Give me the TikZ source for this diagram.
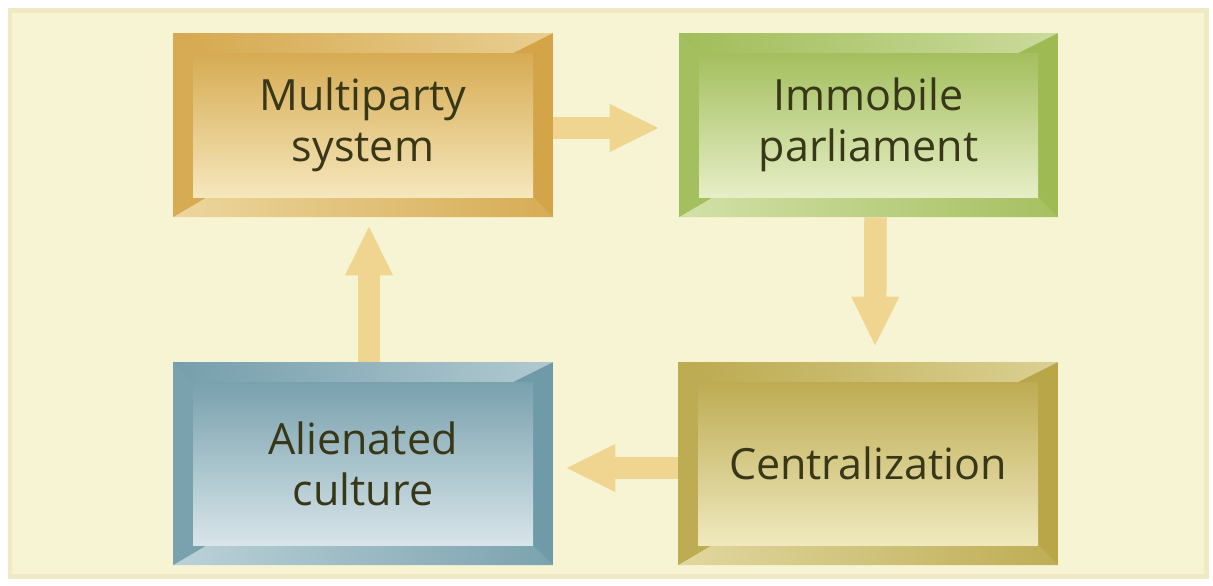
\documentclass[tikz,border=0pt]{standalone}
\usepackage{fontspec}
\setmainfont{Open Sans}
\usetikzlibrary{arrows.meta}

\definecolor{panel}{HTML}{F7F4D3}
\definecolor{panelrim}{HTML}{EFEAC4}
\definecolor{arrowfill}{HTML}{F0D590}
\definecolor{ink}{HTML}{383718}
\definecolor{gold}{HTML}{D3A548}
\definecolor{goldlight}{HTML}{FAF0CC}
\definecolor{leaf}{HTML}{9DBA53}
\definecolor{leaflight}{HTML}{F0F5D6}
\definecolor{slate}{HTML}{6F9AA8}
\definecolor{slatelight}{HTML}{E6EFF2}
\definecolor{ochre}{HTML}{B8A648}
\definecolor{ochrelight}{HTML}{F7F2CE}

\tikzset{
	boxtext/.style={inner sep=0,align=center,text=ink,font=\fontsize{24.5}{29}\selectfont},
	flow/.style={draw=arrowfill,line width=0.45cm,-{Triangle[length=1.0cm,width=0.88cm]}}
}

% bevelled box: name, x1, y1, x2, y2, base colour, text
\newcommand{\BevelBox}[7]{%
	\fill[#6] (#2,#3) rectangle (#4,#5);
	\shade[left color=#6!95!#6light,right color=#6!45!#6light]
		(#2,#3)--(#4,#3)--(#4-40,#3+20)--(#2+20,#3+20)--cycle;
	\shade[left color=#6!35!#6light,right color=#6!90!#6light]
		(#2,#5)--(#4,#5)--(#4-20,#5-20)--(#2+34,#5-20)--cycle;
	\fill[#6!92!#6light]
		(#2,#3)--(#2+20,#3+20)--(#2+20,#5-20)--(#2+34,#5-20)--(#2,#5)--cycle;
	\shade[top color=#6!92!#6light,bottom color=#6!12!#6light]
		(#2+20,#3+20) rectangle (#4-20,#5-20);
	\node[boxtext,minimum width={(#4-#2)*0.02cm},minimum height={(#5-#3)*0.02cm}]
		(#1) at ({(#2+#4)/2},{(#3+#5)/2}) {#7};
}

\begin{document}
\begin{tikzpicture}[x=0.02cm,y=-0.02cm]
\fill[white] (0,0) rectangle (1213,585);
\filldraw[fill=panel,draw=panelrim,line width=0.1cm] (10,10) rectangle (1206,576);

\BevelBox{multi}{173}{33}{553}{217}{gold}{Multiparty\\system}
\BevelBox{immob}{679}{33}{1058}{217}{leaf}{Immobile\\parliament}
\BevelBox{central}{678}{362}{1058}{565}{ochre}{Centralization}
\BevelBox{alien}{173}{362}{553}{565}{slate}{Alienated\\culture}

\draw[flow,shorten >=0.38cm] ([yshift=-0.06cm]multi.east)--([yshift=-0.06cm]immob.west);
\draw[flow,shorten >=0.3cm] ([xshift=0.14cm]immob.south)--([xshift=0.14cm]central.north);
\draw[flow,shorten >=0.24cm] ([yshift=-0.09cm]central.west)--([yshift=-0.09cm]alien.east);
\draw[flow,shorten >=0.16cm] ([xshift=0.12cm]alien.north)--([xshift=0.12cm]multi.south);
\end{tikzpicture}
\end{document}
